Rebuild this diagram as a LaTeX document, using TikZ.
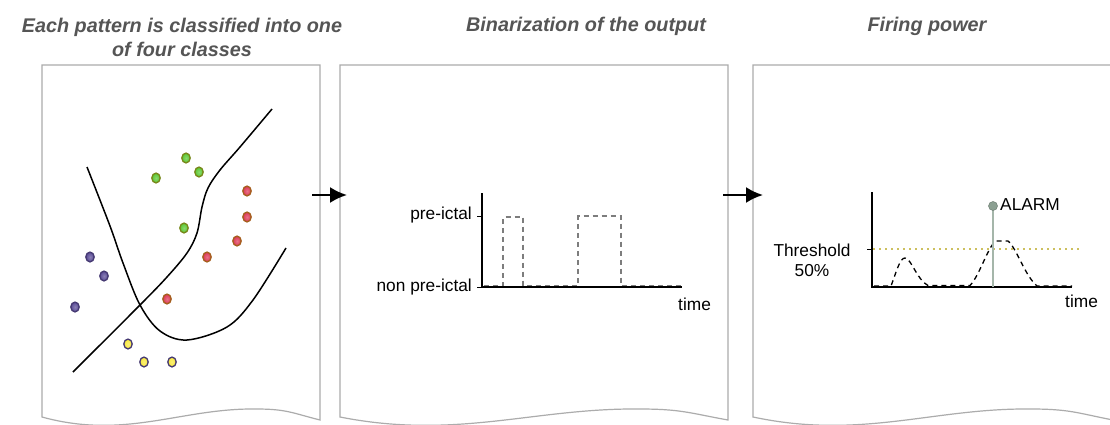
\documentclass[tikz,border=0pt]{standalone}
\usepackage{fontspec}
\setmainfont{Liberation Sans}
\usetikzlibrary{arrows.meta,shadings}
\definecolor{paneledge}{RGB}{172,172,172}
\definecolor{titlegray}{RGB}{85,85,85}
\definecolor{pulsegray}{RGB}{125,125,125}
\definecolor{thrcol}{RGB}{205,192,95}
\definecolor{alarmline}{RGB}{165,182,170}
\definecolor{alarmdot}{RGB}{140,160,146}
\definecolor{gfill}{RGB}{90,200,50}
\definecolor{gedge}{RGB}{120,135,25}
\definecolor{rfill}{RGB}{220,55,85}
\definecolor{redge}{RGB}{165,95,30}
\definecolor{pfill}{RGB}{90,75,150}
\definecolor{pedge}{RGB}{70,58,115}
\definecolor{yfill}{RGB}{248,232,60}
\tikzset{
  panel/.style={draw=paneledge, line width=1.2pt},
  titletext/.style={inner sep=0pt, anchor=base, text=titlegray, font=\fontsize{19.8}{23}\selectfont\bfseries\itshape},
  lbl/.style={inner sep=0pt, font=\fontsize{17.3}{20}\selectfont},
  axis/.style={line width=1.5pt, black},
  tick/.style={line width=1pt, black},
  flow/.style={line width=2.2pt, -{Latex[length=17pt,width=16pt]}},
  pulse/.style={pulsegray, line width=1.2pt, dash pattern=on 5pt off 4pt},
  fpcurve/.style={black, line width=1.3pt, dash pattern=on 5pt off 4pt},
  boundary/.style={black, line width=1.5pt},
  ballstyle/.style={inner color=#1!70!white, outer color=#1},
  dotg/.style={ballstyle=gfill, draw=gedge, line width=1.3pt},
  dotr/.style={ballstyle=rfill, draw=redge, line width=1.3pt},
  dotp/.style={ballstyle=pfill, draw=pedge, line width=1.3pt},
  doty/.style={ballstyle=yfill, draw=pedge, line width=1.3pt},
}
\newcommand\mypanel[2]{%
  \draw[panel] (#1,65) -- (#2,65) -- (#2,420)
    .. controls ({#2-0.1*(#2-#1)},413) and ({#1+0.88*(#2-#1)},409) .. ({#1+0.77*(#2-#1)},409)
    .. controls ({#1+0.5*(#2-#1)},408) and ({#1+0.3*(#2-#1)},440) .. (#1,417) -- cycle;}
\newcommand\mydot[3]{\path[#1] (#2,#3) ellipse [x radius=4.2pt, y radius=4.9pt];}
\begin{document}
\begin{tikzpicture}[x=1pt,y=-1pt]
\useasboundingbox (0,0) rectangle (1110,425);
\clip (0,0) rectangle (1110,425);
\fill[white] (0,0) rectangle (1110,425);
% titles
\node[titletext] (t1a) at (182,33) {Each pattern is classified into one};
\node[titletext] (t1b) at (182,57) {of four classes};
\node[titletext] (t2) at (586,32) {Binarization of the output};
\node[titletext] (t3) at (927,32) {Firing power};
% panels
\mypanel{42}{320}
\mypanel{340}{728}
\mypanel{753}{1113}
% panel 1: boundaries
\draw[boundary] plot[smooth, tension=0.55] coordinates {(87,167) (110,226) (123,263) (140,305) (160,331) (187,340) (227,327) (253,300) (286,248)};
\draw[boundary] plot[smooth, tension=0.55] coordinates {(73,372) (140,305) (167,277) (187,253) (197,233) (202,207) (208,188) (220,170) (240,147) (272,109)};
% dots
\mydot{dotg}{186}{158}
\mydot{dotg}{199}{172}
\mydot{dotg}{156}{178}
\mydot{dotg}{184}{228}
\mydot{dotr}{247}{191}
\mydot{dotr}{247}{217}
\mydot{dotr}{237}{241}
\mydot{dotr}{207}{257}
\mydot{dotr}{167}{299}
\mydot{dotp}{90}{257}
\mydot{dotp}{104}{276}
\mydot{dotp}{75}{307}
\mydot{doty}{128}{344}
\mydot{doty}{144}{362}
\mydot{doty}{172}{362}
% flow arrows
\coordinate (a1s) at (312,195);
\coordinate (a1e) at (347,195);
\coordinate (a2s) at (723,195);
\coordinate (a2e) at (763,195);
\draw[flow] (a1s) -- (a1e);
\draw[flow] (a2s) -- (a2e);
% panel 2 chart
\draw[axis] (482,193) -- (482,287) -- (682,287);
\draw[tick] (477,216) -- (482,216);
\draw[tick] (477,287) -- (482,287);
\draw[pulse] (484,285.5) -- (503,285.5) -- (503,217) -- (523,217) -- (523,285.5) -- (578,285.5) -- (578,216) -- (621,216) -- (621,285.5) -- (682,285.5);
\node[lbl, anchor=east] (pre) at (472,215) {pre-ictal};
\node[lbl, anchor=east] (nonpre) at (472,287) {non pre-ictal};
\node[lbl, anchor=west] (time2) at (678,304) {time};
% panel 3 chart
\draw[thrcol, line width=1.3pt, dash pattern=on 2pt off 4pt] (873,249) -- (1082,249);
\draw[axis] (872,192) -- (872,287) -- (1072,287);
\draw[tick] (867,249) -- (872,249);
\draw[fpcurve] (874,286) -- (891,286) .. controls (897,270) and (900,258) .. (905,258) .. controls (911,258) and (917,280) .. (928,285.5) -- (970,285.5) .. controls (980,275) and (988,246) .. (996,241) -- (1008,241) .. controls (1016,247) and (1025,276) .. (1037,286) -- (1072,286);
\draw[alarmline, line width=1.6pt] (993,287) -- (993,206);
\node[circle, fill=alarmdot, draw=alarmdot!80!black, line width=0.5pt, minimum size=9pt, inner sep=0pt] (alarmdot) at (993,206) {};
\node[lbl, anchor=west] (alarm) at (1000,205) {ALARM};
\node[lbl, align=center] (thr) at (812,260) {Threshold\\50\%};
\node[lbl, anchor=west] (time3) at (1065,301) {time};
\end{tikzpicture}
\end{document}
